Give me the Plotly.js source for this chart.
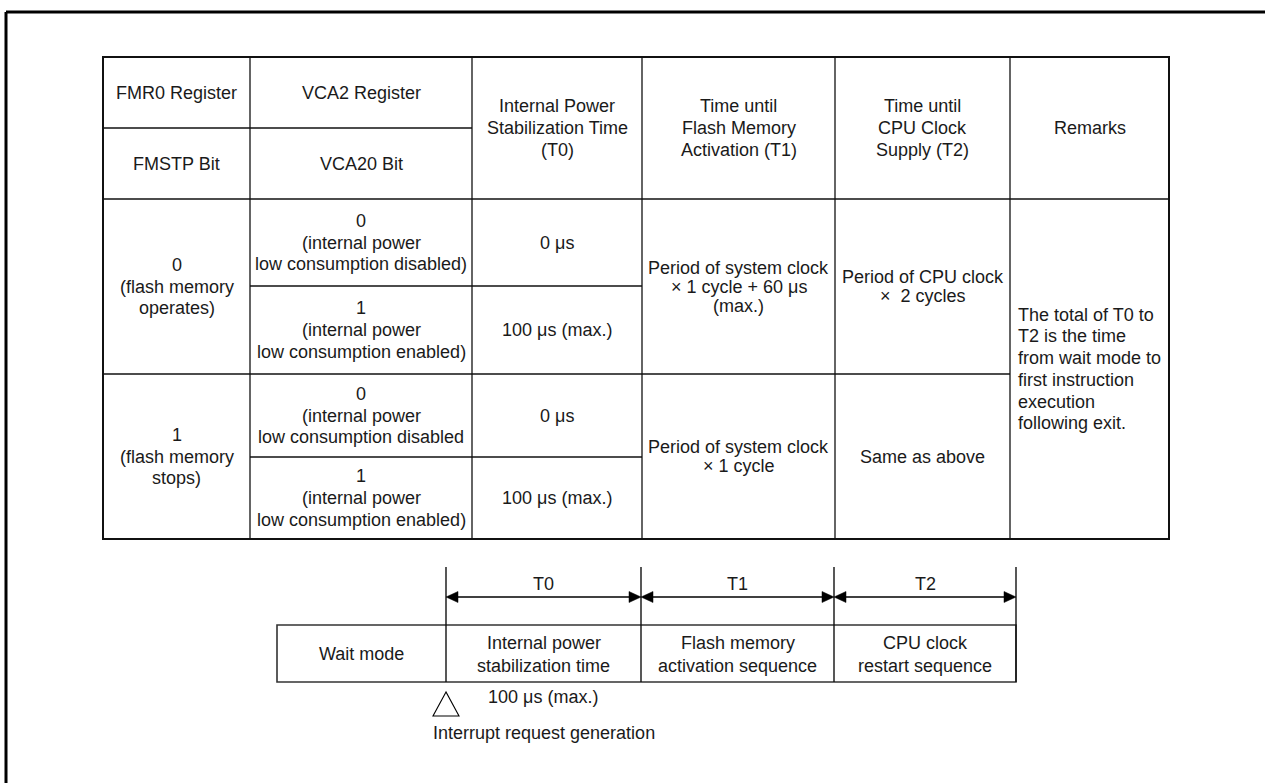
<!DOCTYPE html>
<html>
<head>
<meta charset="utf-8">
<script src="https://cdn.plot.ly/plotly-3.0.1.min.js"></script>
<style>
html,body{margin:0;padding:0;background:#fff;overflow:hidden;}
#chart{width:1265px;height:783px;}
</style>
</head>
<body>
<div id="chart"></div>
<script>
// ---- content ----
const registerHeaders = ["FMR0 Register", "VCA2 Register"];
const bitHeaders = ["FMSTP Bit", "VCA20 Bit"];
const timeHeaders = [
  "Internal Power\nStabilization Time\n(T0)",
  "Time until\nFlash Memory\nActivation (T1)",
  "Time until\nCPU Clock\nSupply (T2)",
  "Remarks"
];
const fmstpValues = ["0\n(flash memory\noperates)", "1\n(flash memory\nstops)"];
const vca20Values = [
  "0\n(internal power\nlow consumption disabled)",
  "1\n(internal power\nlow consumption enabled)",
  "0\n(internal power\nlow consumption disabled",
  "1\n(internal power\nlow consumption enabled)"
];
const t0Values = ["0 \u03bcs", "100 \u03bcs (max.)", "0 \u03bcs", "100 \u03bcs (max.)"];
const t1Values = ["Period of system clock\n\u00d7 1 cycle + 60 \u03bcs\n(max.)", "Period of system clock\n\u00d7 1 cycle"];
const t2Values = ["Period of CPU clock\n\u00d7\u00a0 2 cycles", "Same as above"];
const remarksText = "The total of T0 to\nT2 is the time\nfrom wait mode to\nfirst instruction\nexecution\nfollowing exit.";

const phaseLabels = ["Wait mode", "Internal power\nstabilization time", "Flash memory\nactivation sequence", "CPU clock\nrestart sequence"];
const intervalLabels = ["T0", "T1", "T2"];
const t0Note = "100 \u03bcs (max.)";
const triggerLabel = "Interrupt request generation";

// ---- layout geometry (pixel space mapped through axes) ----
const W = 1265, H = 783;
const colX = [103, 250, 472, 642, 835, 1010, 1169];
const rowY = [57, 128, 199, 286, 374, 457, 539];
const FS = 18;
const FONT = "Liberation Sans, Arial, Helvetica, sans-serif";
const ink = "#111";

const shapes = [];
const annotations = [];

function line(x0, y0, x1, y1, w, c) {
  shapes.push({type: "line", xref: "x", yref: "y", x0, y0, x1, y1,
    line: {color: c || ink, width: w || 1.3}});
}
function text(str, cx, cy, spacing, anchor) {
  const lines = str.split("\n");
  const n = lines.length;
  lines.forEach((l, i) => {
    annotations.push({
      xref: "x", yref: "y", x: cx, y: cy + (i - (n - 1) / 2) * spacing,
      text: l, showarrow: false, xanchor: anchor || "center", yanchor: "middle",
      align: anchor === "left" ? "left" : "center",
      font: {family: FONT, size: FS, color: "#1a1a1a"}
    });
  });
}
const mid = (a, b) => (a + b) / 2;

// outer frame (only left and top edges fall inside the picture)
line(6, 12, W, 12, 3, "#000");
line(6, 12, 6, H, 3, "#000");

// table outer border
shapes.push({type: "rect", xref: "x", yref: "y", x0: colX[0], y0: rowY[0], x1: colX[6], y1: rowY[6],
  line: {color: ink, width: 2}});
// vertical grid
for (let i = 1; i < 6; i++) line(colX[i], rowY[0], colX[i], rowY[6]);
// horizontal grid
line(colX[0], rowY[1], colX[2], rowY[1]);
line(colX[0], rowY[2], colX[6], rowY[2]);
line(colX[1], rowY[3], colX[3], rowY[3]);
line(colX[0], rowY[4], colX[5], rowY[4]);
line(colX[1], rowY[5], colX[3], rowY[5]);

const SP = 21.7, SP2 = 19;
// headers
text(registerHeaders[0], mid(colX[0], colX[1]), mid(rowY[0], rowY[1]), SP);
text(registerHeaders[1], mid(colX[1], colX[2]), mid(rowY[0], rowY[1]), SP);
text(bitHeaders[0], mid(colX[0], colX[1]), mid(rowY[1], rowY[2]), SP);
text(bitHeaders[1], mid(colX[1], colX[2]), mid(rowY[1], rowY[2]), SP);
timeHeaders.forEach((h, i) => text(h, mid(colX[i + 2], colX[i + 3]), mid(rowY[0], rowY[2]), SP));

// body
fmstpValues.forEach((v, g) => text(v, mid(colX[0], colX[1]), mid(rowY[2 + 2 * g], rowY[4 + 2 * g]), SP));
vca20Values.forEach((v, r) => text(v, mid(colX[1], colX[2]), mid(rowY[2 + r], rowY[3 + r]), SP));
t0Values.forEach((v, r) => text(v, mid(colX[2], colX[3]), mid(rowY[2 + r], rowY[3 + r]), SP));
t1Values.forEach((v, g) => text(v, mid(colX[3], colX[4]), mid(rowY[2 + 2 * g], rowY[4 + 2 * g]), SP2));
t2Values.forEach((v, g) => text(v, mid(colX[4], colX[5]), mid(rowY[2 + 2 * g], rowY[4 + 2 * g]), SP2));
text(remarksText, colX[5] + 6, mid(rowY[2], rowY[6]), SP, "left");

// ---- timing diagram ----
const phaseX = [277, 446, 641, 834, 1016];
const boxTop = 625, boxBot = 682, tickTop = 567, arrowY = 597;
const boxInk = "#333";
shapes.push({type: "rect", xref: "x", yref: "y", x0: phaseX[0], y0: boxTop, x1: phaseX[4], y1: boxBot,
  line: {color: boxInk, width: 1.6}});
for (let i = 1; i < 5; i++) line(phaseX[i], tickTop, phaseX[i], boxBot, 1.4, "#111");
phaseLabels.forEach((p, i) => text(p, mid(phaseX[i], phaseX[i + 1]), mid(boxTop, boxBot) + 0.5, 23));

const AL = 12, AH = 5.5;
intervalLabels.forEach((t, i) => {
  const a = phaseX[i + 1], b = phaseX[i + 2];
  line(a + 2, arrowY, b - 2, arrowY, 1.3, "#000");
  shapes.push({type: "path", xref: "x", yref: "y",
    path: `M ${a} ${arrowY} L ${a + AL} ${arrowY - AH} L ${a + AL} ${arrowY + AH} Z`,
    fillcolor: "#000", line: {color: "#000", width: 0.5}});
  shapes.push({type: "path", xref: "x", yref: "y",
    path: `M ${b} ${arrowY} L ${b - AL} ${arrowY - AH} L ${b - AL} ${arrowY + AH} Z`,
    fillcolor: "#000", line: {color: "#000", width: 0.5}});
  text(t, mid(a, b), 584, SP);
});

text(t0Note, 543, 697, SP);
shapes.push({type: "path", xref: "x", yref: "y",
  path: `M ${phaseX[1]} 692 L ${phaseX[1] - 13} 716 L ${phaseX[1] + 13} 716 Z`,
  fillcolor: "rgba(0,0,0,0)", line: {color: "#000", width: 1.1}});
text(triggerLabel, 431, 733, SP, "left");

const layout = {
  width: W, height: H,
  margin: {l: 0, r: 0, t: 0, b: 0, pad: 0},
  paper_bgcolor: "#fff", plot_bgcolor: "#fff",
  showlegend: false,
  xaxis: {range: [0, W], visible: false, fixedrange: true},
  yaxis: {range: [H, 0], visible: false, fixedrange: true},
  shapes, annotations
};
Plotly.newPlot("chart", [{type: "scatter", x: [], y: [], hoverinfo: "skip"}], layout,
  {staticPlot: true, displayModeBar: false});
</script>
</body>
</html>
